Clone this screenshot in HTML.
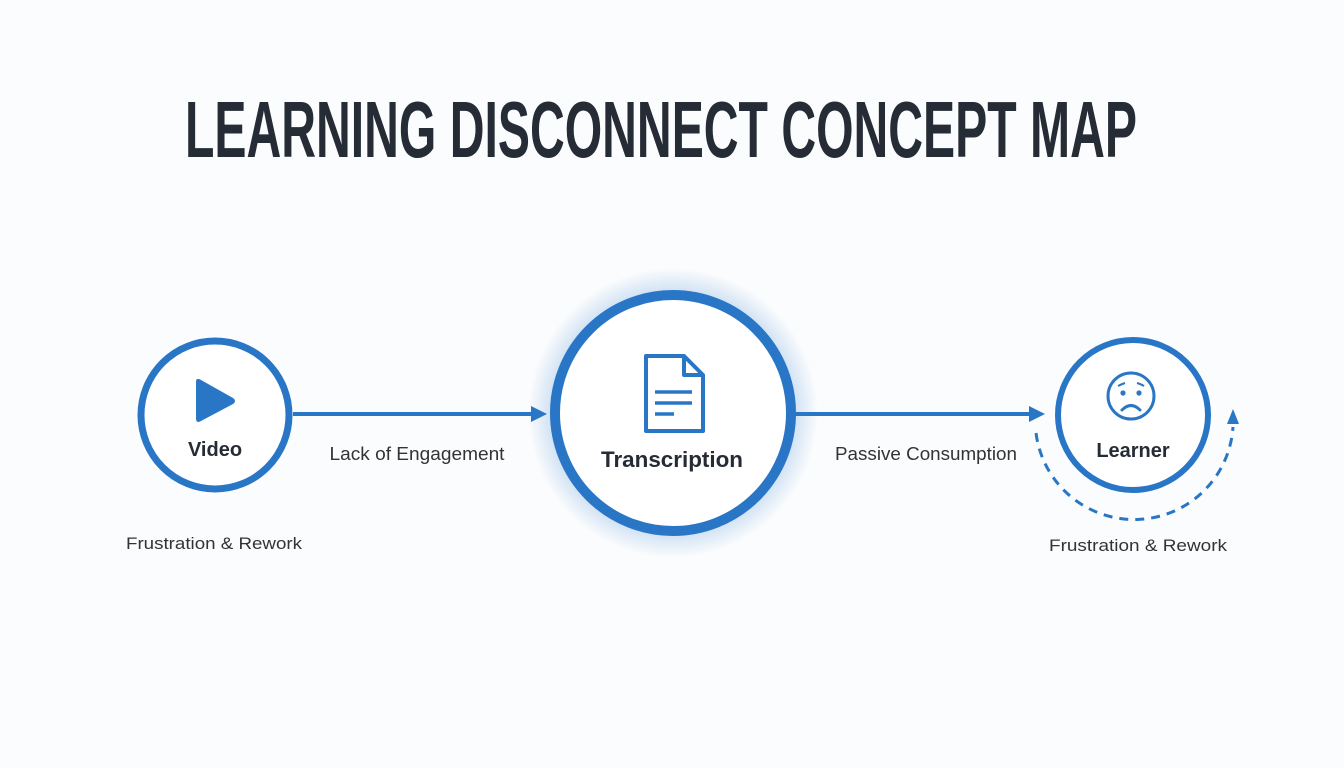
<!DOCTYPE html>
<html><head><meta charset="utf-8"><style>
html,body{margin:0;padding:0;background:#fbfcfd;}
svg{display:block}
</style></head><body>
<svg width="1344" height="768" viewBox="0 0 1344 768" xmlns="http://www.w3.org/2000/svg">
<defs>
<radialGradient id="glow" cx="50%" cy="50%" r="50%">
<stop offset="0.72" stop-color="#2a7bd0" stop-opacity="0.35"/>
<stop offset="1" stop-color="#2a7bd0" stop-opacity="0"/>
</radialGradient>
</defs>
<rect width="1344" height="768" fill="#fbfcfd"/>
<text x="185" y="157" textLength="952" lengthAdjust="spacingAndGlyphs" font-family="'Liberation Sans Narrow','Liberation Sans',sans-serif" font-weight="bold" font-size="80" fill="#262c36">LEARNING DISCONNECT CONCEPT MAP</text>

<line x1="293" y1="414" x2="532" y2="414" stroke="#2a76c6" stroke-width="4"/>
<polygon points="531,406 547,414 531,422" fill="#2a76c6"/>
<line x1="795" y1="414" x2="1030" y2="414" stroke="#2a76c6" stroke-width="4"/>
<polygon points="1029,406 1045,414 1029,422" fill="#2a76c6"/>

<circle cx="215" cy="415" r="74" fill="#fff" stroke="#2a76c6" stroke-width="7"/>
<path d="M196,382 L196,418 Q196,424 201,421 L233,404 Q237,401 233,398 L201,380 Q196,377 196,382 Z" fill="#2a76c6"/>
<text x="215" y="456" text-anchor="middle" font-family="'Liberation Sans',sans-serif" font-weight="bold" font-size="20" fill="#262c36">Video</text>
<text x="214" y="549" text-anchor="middle" textLength="176" lengthAdjust="spacingAndGlyphs" font-family="'Liberation Sans',sans-serif" font-size="17" fill="#333">Frustration &amp; Rework</text>

<circle cx="673" cy="413" r="145" fill="url(#glow)"/>
<circle cx="673" cy="413" r="118" fill="#fff" stroke="#2a76c6" stroke-width="10"/>
<path d="M646,356 L684,356 L703,375 L703,431 L646,431 Z" fill="none" stroke="#2a76c6" stroke-width="4" stroke-linejoin="round"/>
<path d="M684,356 L684,375 L703,375" fill="none" stroke="#2a76c6" stroke-width="4" stroke-linejoin="round"/>
<line x1="655" y1="392" x2="692" y2="392" stroke="#2a76c6" stroke-width="3.5"/>
<line x1="655" y1="403" x2="692" y2="403" stroke="#2a76c6" stroke-width="3.5"/>
<line x1="655" y1="414" x2="674" y2="414" stroke="#2a76c6" stroke-width="3.5"/>
<text x="672" y="467" text-anchor="middle" textLength="142" lengthAdjust="spacingAndGlyphs" font-family="'Liberation Sans',sans-serif" font-weight="bold" font-size="22" fill="#262c36">Transcription</text>

<text x="417" y="460" text-anchor="middle" textLength="175" lengthAdjust="spacingAndGlyphs" font-family="'Liberation Sans',sans-serif" font-size="18" fill="#333">Lack of Engagement</text>
<text x="926" y="460" text-anchor="middle" textLength="182" lengthAdjust="spacingAndGlyphs" font-family="'Liberation Sans',sans-serif" font-size="18" fill="#333">Passive Consumption</text>

<path d="M1036,433 A99,99 0 0 0 1233,427" fill="none" stroke="#2a76c6" stroke-width="3" stroke-dasharray="9,7"/>
<polygon points="1227,424 1233,409 1239,424" fill="#2a76c6"/>
<circle cx="1133" cy="415" r="75" fill="#fff" stroke="#2a76c6" stroke-width="6"/>
<circle cx="1131" cy="396" r="23" fill="none" stroke="#2a76c6" stroke-width="3"/>
<circle cx="1123" cy="393" r="2.6" fill="#2a76c6"/>
<circle cx="1139" cy="393" r="2.6" fill="#2a76c6"/>
<path d="M1118,386 Q1122,384 1125,383 M1137,383 Q1141,384 1144,386" stroke="#2a76c6" stroke-width="2" fill="none"/>
<path d="M1122,410 Q1131,401 1140,410" stroke="#2a76c6" stroke-width="3" fill="none" stroke-linecap="round"/>
<text x="1133" y="457" text-anchor="middle" font-family="'Liberation Sans',sans-serif" font-weight="bold" font-size="20" fill="#262c36">Learner</text>
<text x="1138" y="551" text-anchor="middle" textLength="178" lengthAdjust="spacingAndGlyphs" font-family="'Liberation Sans',sans-serif" font-size="17" fill="#333">Frustration &amp; Rework</text>
</svg>
</body></html>
